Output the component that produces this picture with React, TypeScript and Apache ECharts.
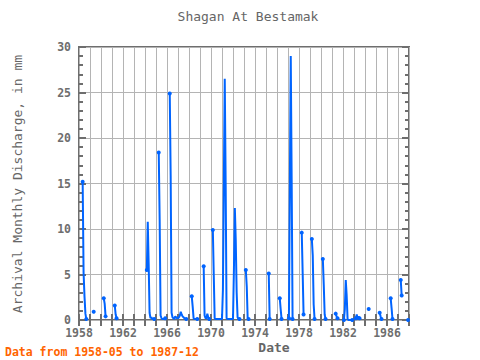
import React, { useEffect, useRef } from "react";
import * as echarts from "echarts";

// Each segment: first month ("YYYY-MM") and consecutive monthly values (mm)
const segmentStarts = [
  "1958-05", "1959-05", "1960-04", "1961-04", "1964-03", "1965-04", "1966-04",
  "1968-04", "1969-05", "1970-03", "1973-03", "1975-04", "1976-04", "1977-02",
  "1978-04", "1979-03", "1980-03", "1981-05", "1982-02", "1983-03", "1984-05",
  "1985-05", "1986-05", "1987-04", "1987-12",
];

const seg1958 = [15.2, 5.2, 2.6, 0.7, 0.1];
const seg1959 = [0.9];
const seg1960 = [2.4, 1.8, 0.4];
const seg1961 = [1.6, 0.6, 0.2];
const seg1964 = [5.5, 10.8, 6.2, 0.8, 0.2, 0.3, 0.1, 0.1, 0.1];
const seg1965 = [18.4, 11.0, 0.5, 0.2, 0.1, 0.1, 0.1, 0.2];
const seg1966 = [24.9, 15.9, 0.8, 0.3, 0.2, 0.1, 0.4, 0.3, 0.2,
  0.2, 0.3, 0.5, 0.9, 0.6, 0.4, 0.3, 0.2, 0.1, 0.1];
const seg1968 = [2.6, 1.5, 0.2, 0.1, 0.1, 0.1, 0.1];
const seg1969 = [5.9, 0.5, 0.2, 0.2, 0.7, 0.3, 0.1];
const seg1970 = [9.9, 5.0, 0.2, 0.1, 0.1, 0.1, 0.1, 0.1, 0.1, 0.1,
  0.1, 3.3, 15.0, 26.5, 15.0, 0.2, 0.1, 0.1, 0.1, 0.1, 0.1, 0.1,
  0.1, 5.5, 12.3, 8.8, 3.0, 0.3, 0.1, 0.1];
const seg1973 = [5.5, 3.7, 0.2, 0.1];
const seg1975 = [5.1, 0.1];
const seg1976 = [2.4, 1.2, 0.1];
const seg1977 = [0.2, 14.6, 29.0, 15.4, 0.1];
const seg1978 = [9.6, 5.2, 0.6];
const seg1979 = [8.9, 7.1, 1.7, 0.1];
const seg1980 = [6.7, 3.9, 0.6, 0.1];
const seg1981 = [0.7, 0.4, 0.2];
const seg1982 = [0.0, 1.2, 4.4, 2.7, 0.1, 0.0, 0.0, 0.0, 0.0, 0.0];
const seg1983 = [0.2, 0.6, 0.1, 0.4, 0.2];
const seg1984 = [1.2];
const seg1985 = [0.8, 0.4, 0.1];
const seg1986 = [2.4, 1.3, 0.1];
const seg1987a = [4.4, 2.7];
const seg1987b = [0.0];

const segmentValues = [
  seg1958, seg1959, seg1960, seg1961, seg1964, seg1965, seg1966, seg1968,
  seg1969, seg1970, seg1973, seg1975, seg1976, seg1977, seg1978, seg1979,
  seg1980, seg1981, seg1982, seg1983, seg1984, seg1985, seg1986, seg1987a,
  seg1987b,
];

const xLabelYears = [1958, 1962, 1966, 1970, 1974, 1978, 1982, 1986];

const TITLE = "Shagan At Bestamak";
const Y_NAME = "Archival Monthly Discharge, in mm";
const X_NAME = "Date";
const FOOTER = "Data from 1958-05 to 1987-12";

export default function App() {
  const ref = useRef<HTMLDivElement>(null);

  useEffect(() => {
    if (!ref.current) return;
    const chart = echarts.init(ref.current, null, { renderer: "svg" });

    const data: any[] = [];
    segmentStarts.forEach((s, i) => {
      const [yy, mm] = s.split("-").map(Number);
      const vals = segmentValues[i];
      vals.forEach((v, j) => {
        const t = yy + (mm - 1 + j) / 12;
        const isEnd = j === 0 || j === vals.length - 1;
        data.push({ value: [t, v], symbol: isEnd ? "circle" : "none" });
      });
      data.push({ value: [yy + (mm - 1 + vals.length) / 12, "-"] });
    });

    const font = "DejaVu Sans Mono";
    const dark = "#6e6e6e";
    const gridC = "#b4b4b4";

    const xBase = {
      type: "value",
      min: 1958,
      max: 1988,
      interval: 1,
      axisLine: { show: false },
      axisTick: { show: true, inside: true, length: 6, lineStyle: { color: dark, width: 2 } },
    };
    const yBase = {
      type: "value",
      min: 0,
      max: 30,
      interval: 5,
      axisLine: { show: false },
      axisTick: { show: true, inside: true, length: 7, lineStyle: { color: dark, width: 2 } },
      minorTick: { show: true, splitNumber: 5, length: 4, lineStyle: { color: dark, width: 2 } },
    };

    chart.setOption({
      animation: false,
      grid: {
        left: 79,
        right: 71,
        top: 47,
        bottom: 40,
        show: true,
        borderColor: dark,
        borderWidth: 2,
        backgroundColor: "transparent",
      },
      xAxis: [
        {
          ...xBase,
          position: "bottom",
          splitLine: { show: true, lineStyle: { color: gridC, width: 1 } },
          axisLabel: {
            margin: 7,
            fontFamily: font,
            fontWeight: "bold",
            fontSize: 11.5,
            color: dark,
            formatter: (v: number) => (xLabelYears.includes(Math.round(v)) ? String(Math.round(v)) : ""),
          },
        },
        {
          ...xBase,
          position: "top",
          splitLine: { show: false },
          axisLabel: { show: false },
        },
      ],
      yAxis: [
        {
          ...yBase,
          position: "left",
          splitLine: { show: true, lineStyle: { color: gridC, width: 1 } },
          axisLabel: {
            margin: 8,
            fontFamily: font,
            fontWeight: "bold",
            fontSize: 11.5,
            color: dark,
            padding: [0, 0, 6, 0],
          },
        },
        {
          ...yBase,
          position: "right",
          splitLine: { show: false },
          axisLabel: { show: false },
        },
      ],
      series: [
        {
          type: "line",
          data,
          xAxisIndex: 0,
          yAxisIndex: 0,
          connectNulls: false,
          showSymbol: true,
          showAllSymbol: true,
          symbolSize: 4,
          lineStyle: { color: "#0064ff", width: 2 },
          itemStyle: { color: "#0064ff" },
          emphasis: { disabled: true },
        },
      ],
      graphic: [
        {
          type: "text",
          x: 248,
          y: 16,
          style: {
            text: TITLE,
            fontFamily: font,
            fontSize: 13,
            fill: "#666",
            textAlign: "center",
            textVerticalAlign: "middle",
          },
        },
        {
          type: "text",
          x: 17,
          y: 184,
          rotation: Math.PI / 2,
          style: {
            text: Y_NAME,
            fontFamily: font,
            fontSize: 13,
            fill: "#666",
            textAlign: "center",
            textVerticalAlign: "middle",
          },
        },
        {
          type: "text",
          x: 274,
          y: 347,
          style: {
            text: X_NAME,
            fontFamily: font,
            fontSize: 13,
            fontWeight: "bold",
            fill: "#666",
            textAlign: "center",
            textVerticalAlign: "middle",
          },
        },
        {
          type: "text",
          x: 5,
          y: 352,
          style: {
            text: FOOTER,
            fontFamily: font,
            fontSize: 11.5,
            fontWeight: "bold",
            fill: "#ff6400",
            textAlign: "left",
            textVerticalAlign: "middle",
          },
        },
      ],
    });

    return () => chart.dispose();
  }, []);

  return (
    <div
      ref={ref}
      style={{ position: "absolute", left: 0, top: 0, width: 480, height: 360 }}
    />
  );
}
